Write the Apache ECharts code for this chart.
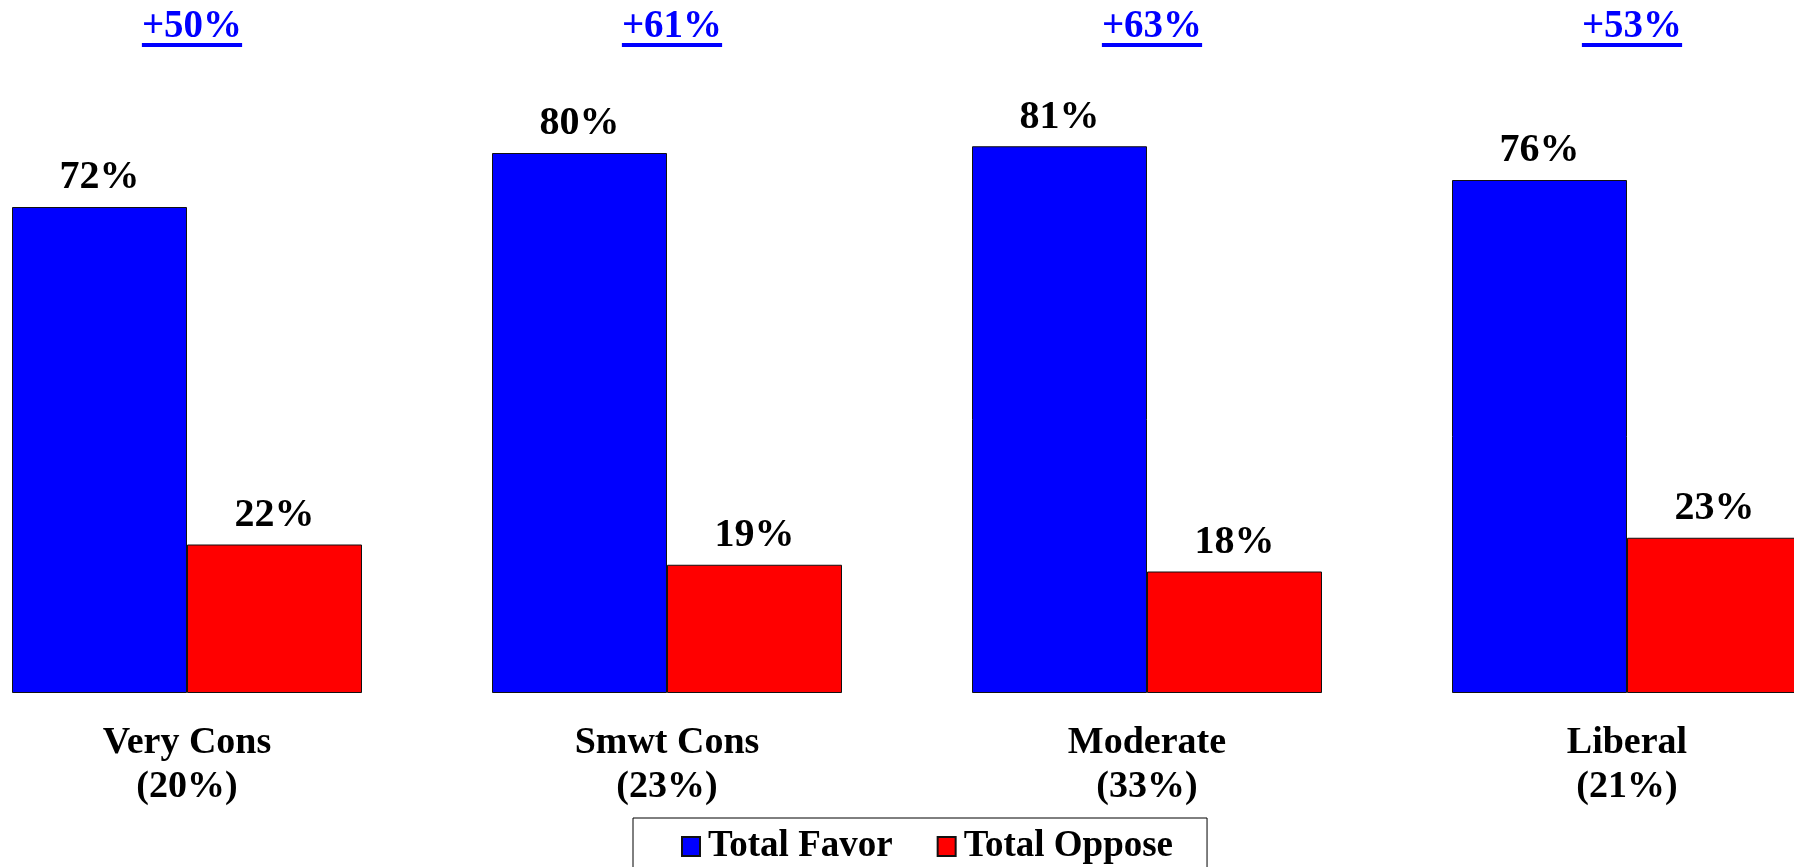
<!DOCTYPE html>
<html>
<head>
<meta charset="utf-8">
<script src="https://cdn.jsdelivr.net/npm/echarts@6/dist/echarts.min.js"></script>
<style>
html, body { margin: 0; padding: 0; background: #fff; overflow: hidden; width: 1794px; height: 867px; }
#wrap { position: relative; width: 1794px; height: 867px; overflow: hidden; }
#chart { position: absolute; left: -53px; top: 0; width: 1920px; height: 867px; }
</style>
</head>
<body>
<div id="wrap"><div id="chart"></div></div>
<script>
// ---- data ----
const categories = ['Very Cons\n(20%)', 'Smwt Cons\n(23%)', 'Moderate\n(33%)', 'Liberal\n(21%)'];
const favor = [72, 80, 81, 76];
const oppose = [22, 19, 18, 23];
const netLabels = ['+50%', '+61%', '+63%', '+53%'];
const seriesNames = ['Total Favor', 'Total Oppose'];

const FONT = "'Liberation Serif', 'Times New Roman', serif";

const chart = echarts.init(document.getElementById('chart'), null, { renderer: 'canvas' });

const valueLabel = {
  show: true,
  position: 'top',
  distance: 9,
  formatter: p => p.value + '%',
  color: '#000',
  fontFamily: FONT,
  fontWeight: 'bold',
  fontSize: 40
};

chart.setOption({
  backgroundColor: '#fff',
  animation: false,
  grid: { left: 0, right: 0, top: 18, bottom: 174, containLabel: false },
  xAxis: {
    type: 'category',
    data: categories,
    axisLine: { show: false },
    axisTick: { show: false },
    splitLine: { show: false },
    axisLabel: {
      interval: 0,
      margin: 28,
      color: '#000',
      fontFamily: FONT,
      fontWeight: 'bold',
      fontSize: 38,
      lineHeight: 44,
      align: 'center'
    }
  },
  yAxis: {
    type: 'value',
    min: 0,
    max: 100,
    show: false,
    splitLine: { show: false }
  },
  legend: {
    left: 686,
    top: 818,
    orient: 'horizontal',
    padding: [10, 34, 30, 48],
    itemGap: 44,
    itemWidth: 18,
    itemHeight: 19,
    borderColor: '#000',
    borderWidth: 1,
    icon: 'rect',
    textStyle: {
      color: '#000',
      fontFamily: FONT,
      fontWeight: 'bold',
      fontSize: 37,
      padding: [0, 0, 0, 3]
    },
    data: seriesNames
  },
  series: [
    {
      name: seriesNames[0],
      type: 'bar',
      data: favor,
      barWidth: 175,
      barGap: '0%',
      itemStyle: { color: '#0000ff', borderColor: '#111', borderWidth: 1 },
      label: valueLabel
    },
    {
      name: seriesNames[1],
      type: 'bar',
      data: oppose,
      barWidth: 175,
      barGap: '0%',
      itemStyle: { color: '#ff0000', borderColor: '#111', borderWidth: 1 },
      label: valueLabel
    }
  ]
});

// Net difference labels (underlined, blue) above each category
const netFont = 'bold 39px ' + FONT;
const ctx = document.createElement('canvas').getContext('2d');
ctx.font = netFont;
const graphics = [];
categories.forEach((c, i) => {
  const cx = chart.convertToPixel({ xAxisIndex: 0 }, i) + 5;
  const w = ctx.measureText(netLabels[i]).width;
  graphics.push({
    type: 'text',
    x: cx,
    y: 27,
    style: {
      text: netLabels[i],
      fill: '#0000ff',
      font: netFont,
      align: 'center',
      verticalAlign: 'middle'
    }
  });
  graphics.push({
    type: 'rect',
    shape: { x: cx - w / 2, y: 43, width: w, height: 4 },
    style: { fill: '#0000ff' }
  });
});
chart.setOption({ graphic: graphics });
</script>
</body>
</html>
